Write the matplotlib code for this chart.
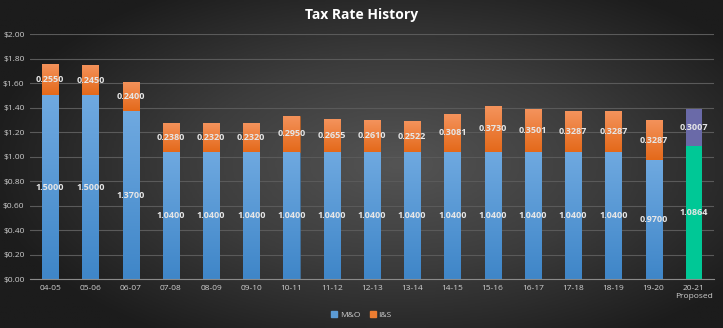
import numpy as np
import matplotlib.pyplot as plt
from matplotlib.colors import LinearSegmentedColormap

years = ['04-05', '05-06', '06-07', '07-08', '08-09', '09-10', '10-11', '11-12',
         '12-13', '13-14', '14-15', '15-16', '16-17', '17-18', '18-19', '19-20',
         '20-21\nProposed']
mo = [1.5000, 1.5000, 1.3700, 1.0400, 1.0400, 1.0400, 1.0400, 1.0400,
      1.0400, 1.0400, 1.0400, 1.0400, 1.0400, 1.0400, 1.0400, 0.9700, 1.0864]
ins = [0.2550, 0.2450, 0.2400, 0.2380, 0.2320, 0.2320, 0.2950, 0.2655,
       0.2610, 0.2522, 0.3081, 0.3730, 0.3501, 0.3287, 0.3287, 0.3287, 0.3007]
yticks = [0, 0.2, 0.4, 0.6, 0.8, 1.0, 1.2, 1.4, 1.6, 1.8, 2.0]

plt.rcParams['font.family'] = ['Open Sans', 'DejaVu Sans']

fig = plt.figure(figsize=(7.23, 3.28), dpi=100)

# dark radial background
bg = fig.add_axes([0, 0, 1, 1])
gx, gy = np.meshgrid(np.linspace(-1, 1, 400), np.linspace(-1, 1, 200))
r = np.sqrt(((gx - 0.1) / 1.1) ** 2 + (gy / 1.2) ** 2)
bg_cmap = LinearSegmentedColormap.from_list('bg', ['#545454', '#3c3c3c', '#1c1c1c'])
bg.imshow(r, cmap=bg_cmap, aspect='auto', extent=[0, 1, 0, 1], vmin=0, vmax=1.05)
bg.axis('off')

ax = fig.add_axes([0.0415, 0.149, 0.946, 0.747])
ax.patch.set_alpha(0)

x = np.arange(len(years))
w = 0.4

def grad_fill(bars, top, bottom):
    cm = LinearSegmentedColormap.from_list('g', [bottom, top])
    grad = np.linspace(0, 1, 100).reshape(-1, 1)
    for b in bars:
        x0, y0 = b.get_x(), b.get_y()
        im = ax.imshow(grad, cmap=cm, aspect='auto', origin='lower',
                       extent=[x0, x0 + b.get_width(), y0, y0 + b.get_height()], zorder=2)
        im.set_clip_path(b)

blue = ax.bar(x[:-1], mo[:-1], w, color='#5b9bd5', edgecolor='#3a6e9e', lw=0.4, zorder=2)
orange = ax.bar(x[:-1], ins[:-1], w, bottom=mo[:-1], color='#ed7d31', edgecolor='#b85b1e', lw=0.4, zorder=2)
grad_fill(blue, '#6fa9e0', '#3f86c8')
grad_fill(orange, '#f4935c', '#e4691a')
ax.bar(x[-1], mo[-1], w, color='#00c896', zorder=2)
ax.bar(x[-1], ins[-1], w, bottom=mo[-1], color='#6a6aa8', zorder=2)

for i in range(len(years)):
    ax.text(x[i], mo[i] / 2, '%.4f' % mo[i], ha='center', va='center',
            color='#e6e6e6', fontsize=6.5, fontweight='bold', zorder=4)
    ax.text(x[i], mo[i] + ins[i] / 2, '%.4f' % ins[i], ha='center', va='center',
            color='#e6e6e6', fontsize=6.5, fontweight='bold', zorder=4)

ax.set_xlim(-0.5, len(years) - 0.5)
ax.set_ylim(0, 2.0)
ax.set_yticks(yticks)
ax.set_yticklabels(['$%.2f' % v for v in yticks])
ax.set_xticks(x)
ax.set_xticklabels(years)
ax.tick_params(colors='#cfcfcf', labelsize=6, length=0, pad=4)
ax.grid(axis='y', color='#5a5a5a', lw=0.8, zorder=0)
for s in ['top', 'right', 'left']:
    ax.spines[s].set_visible(False)
ax.spines['bottom'].set_color('#8a8a8a')

fig.text(0.5, 0.953, 'Tax Rate History', ha='center', va='center',
         color='white', fontsize=10, fontweight='bold')

h1 = plt.Rectangle((0, 0), 1, 1, color='#5b9bd5')
h2 = plt.Rectangle((0, 0), 1, 1, color='#ed7d31')
fig.legend([h1, h2], ['M&O', 'I&S'], loc='center', bbox_to_anchor=(0.5, 0.04),
           ncol=2, frameon=False, fontsize=6, labelcolor='#cfcfcf',
           handlelength=0.7, handleheight=0.7, handletextpad=0.3, columnspacing=1.2)

fig.savefig('out.png', dpi=100)
